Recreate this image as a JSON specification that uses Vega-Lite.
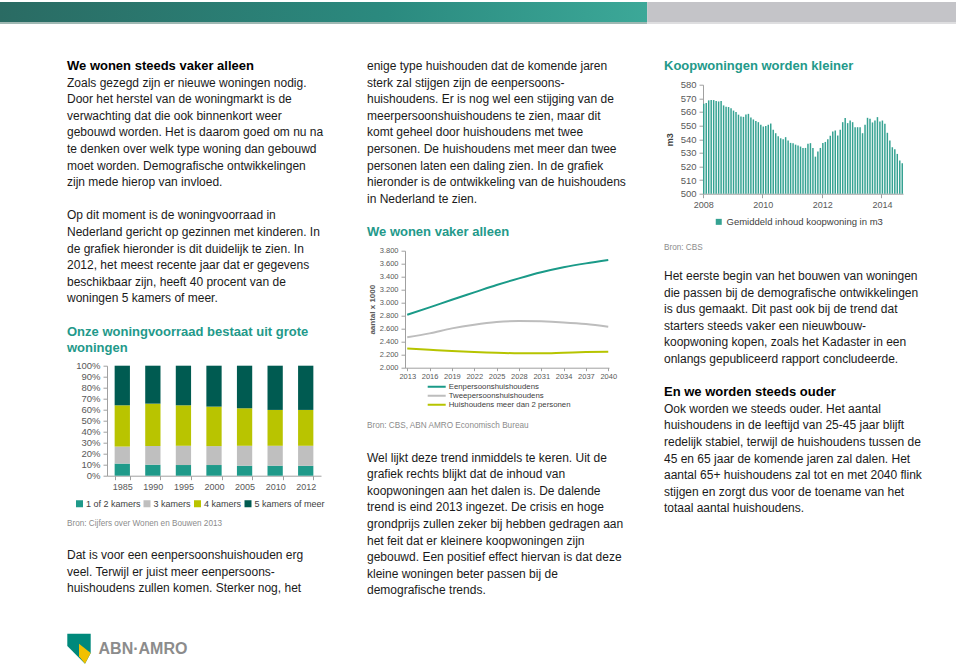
{
  "$schema": "https://vega.github.io/schema/vega-lite/v6.json",
  "padding": {"top": 2, "left": 0, "right": 0, "bottom": 0},
  "background": "white",
  "config": {
    "font": "Liberation Sans",
    "view": {"stroke": null},
    "axis": {"grid": false, "domainColor": "#a0a0a0", "tickColor": "#a0a0a0", "labelColor": "#595959", "titleColor": "#595959", "tickSize": 4, "labelPadding": 2},
    "legend": {"padding": 0, "labelColor": "#404040"}
  },
  "resolve": {"scale": {"color": "independent"}, "legend": {"color": "independent"}},
  "spacing": 33.7,
  "vconcat": [
    {
      "width": 956, "height": 22,
      "data": {"values": [{}]},
      "encoding": {
        "y": {"datum": 0, "type": "quantitative", "scale": {"domain": [0, 1], "reverse": true, "nice": false, "zero": false}, "axis": null}
      },
      "layer": [
        {"mark": {"type": "rect", "color": {"gradient": "linear", "x1": 0, "y1": 0, "x2": 1, "y2": 0, "stops": [{"offset": 0, "color": "#2a6b63"}, {"offset": 0.6, "color": "#2b8a7f"}, {"offset": 1, "color": "#3ca898"}]}},
         "encoding": {"x": {"datum": 0, "type": "quantitative", "scale": {"domain": [0, 1], "nice": false, "zero": false}, "axis": null}, "x2": {"datum": 0.677}, "y2": {"datum": 0.91}}},
        {"mark": {"type": "rect", "color": "#c4c4c8"},
         "encoding": {"x": {"datum": 0.677, "type": "quantitative", "axis": null}, "x2": {"datum": 1}, "y2": {"datum": 0.91}}},
        {"mark": {"type": "rect", "color": "#9fb8b3"},
         "encoding": {"x": {"datum": 0, "type": "quantitative", "axis": null}, "x2": {"datum": 0.677}, "y": {"datum": 0.91, "type": "quantitative"}, "y2": {"datum": 1}}},
        {"mark": {"type": "rect", "color": "#dedee0"},
         "encoding": {"x": {"datum": 0.677, "type": "quantitative", "axis": null}, "x2": {"datum": 1}, "y": {"datum": 0.91, "type": "quantitative"}, "y2": {"datum": 1}}}
      ]
    },
    {
      "spacing": 20,
      "resolve": {"scale": {"color": "independent"}, "legend": {"color": "independent"}},
      "hconcat": [
        {"width": 47, "height": 20, "data": {"values": [{}]}, "mark": {"type": "text", "text": "", "fontSize": 1}},
        {
          "spacing": 0,
          "resolve": {"scale": {"color": "independent"}, "legend": {"color": "independent"}},
          "vconcat": [
            {
              "width": 280, "height": 302.25,
              "data": {"values": [
                {"line": 0, "kind": "heading", "text": "We wonen steeds vaker alleen"},
                {"line": 1, "kind": "body", "text": "Zoals gezegd zijn er nieuwe woningen nodig."},
                {"line": 2, "kind": "body", "text": "Door het herstel van de woningmarkt is de"},
                {"line": 3, "kind": "body", "text": "verwachting dat die ook binnenkort weer"},
                {"line": 4, "kind": "body", "text": "gebouwd worden. Het is daarom goed om nu na"},
                {"line": 5, "kind": "body", "text": "te denken over welk type woning dan gebouwd"},
                {"line": 6, "kind": "body", "text": "moet worden. Demografische ontwikkelingen"},
                {"line": 7, "kind": "body", "text": "zijn mede hierop van invloed."},
                {"line": 9, "kind": "body", "text": "Op dit moment is de woningvoorraad in"},
                {"line": 10, "kind": "body", "text": "Nederland gericht op gezinnen met kinderen. In"},
                {"line": 11, "kind": "body", "text": "de grafiek hieronder is dit duidelijk te zien. In"},
                {"line": 12, "kind": "body", "text": "2012, het meest recente jaar dat er gegevens"},
                {"line": 13, "kind": "body", "text": "beschikbaar zijn, heeft 40 procent van de"},
                {"line": 14, "kind": "body", "text": "woningen 5 kamers of meer."},
                {"line": 16, "kind": "title", "text": "Onze woningvoorraad bestaat uit grote"},
                {"line": 17, "kind": "title", "text": "woningen"}
              ]},
              "encoding": {
                "x": {"value": 0},
                "y": {"field": "line", "type": "quantitative", "scale": {"domain": [-0.5, 17.708], "reverse": true, "nice": false, "zero": false}, "axis": null},
                "text": {"field": "text"}
              },
              "layer": [
                {"transform": [{"filter": "datum.kind === 'heading'"}], "mark": {"type": "text", "align": "left", "baseline": "middle", "fontSize": 13, "fontWeight": "bold", "color": "#000000"}},
                {"transform": [{"filter": "datum.kind === 'body'"}], "mark": {"type": "text", "align": "left", "baseline": "middle", "fontSize": 12, "color": "#1a1a1a"}},
                {"transform": [{"filter": "datum.kind === 'title'"}], "mark": {"type": "text", "align": "left", "baseline": "middle", "fontSize": 13, "fontWeight": "bold", "color": "#23998a"}}
              ]
            },
            {
              "spacing": 0,
              "hconcat": [
                {"width": 1, "height": 10, "data": {"values": [{}]}, "mark": {"type": "text", "text": "", "fontSize": 1}},
                {
                  "width": 214, "height": 110,
                  "data": {"values": [
                    {"year": "1985", "rooms": "1 of 2 kamers", "rank": 1, "share": 11},
                    {"year": "1985", "rooms": "3 kamers", "rank": 2, "share": 15.5},
                    {"year": "1985", "rooms": "4 kamers", "rank": 3, "share": 37.5},
                    {"year": "1985", "rooms": "5 kamers of meer", "rank": 4, "share": 36},
                    {"year": "1990", "rooms": "1 of 2 kamers", "rank": 1, "share": 10},
                    {"year": "1990", "rooms": "3 kamers", "rank": 2, "share": 17},
                    {"year": "1990", "rooms": "4 kamers", "rank": 3, "share": 38.5},
                    {"year": "1990", "rooms": "5 kamers of meer", "rank": 4, "share": 34.5},
                    {"year": "1995", "rooms": "1 of 2 kamers", "rank": 1, "share": 9.7},
                    {"year": "1995", "rooms": "3 kamers", "rank": 2, "share": 17.5},
                    {"year": "1995", "rooms": "4 kamers", "rank": 3, "share": 36.8},
                    {"year": "1995", "rooms": "5 kamers of meer", "rank": 4, "share": 36},
                    {"year": "2000", "rooms": "1 of 2 kamers", "rank": 1, "share": 9.7},
                    {"year": "2000", "rooms": "3 kamers", "rank": 2, "share": 17.2},
                    {"year": "2000", "rooms": "4 kamers", "rank": 3, "share": 35.9},
                    {"year": "2000", "rooms": "5 kamers of meer", "rank": 4, "share": 37.2},
                    {"year": "2005", "rooms": "1 of 2 kamers", "rank": 1, "share": 9.1},
                    {"year": "2005", "rooms": "3 kamers", "rank": 2, "share": 18.1},
                    {"year": "2005", "rooms": "4 kamers", "rank": 3, "share": 34.1},
                    {"year": "2005", "rooms": "5 kamers of meer", "rank": 4, "share": 38.7},
                    {"year": "2010", "rooms": "1 of 2 kamers", "rank": 1, "share": 9.1},
                    {"year": "2010", "rooms": "3 kamers", "rank": 2, "share": 18.1},
                    {"year": "2010", "rooms": "4 kamers", "rank": 3, "share": 32.6},
                    {"year": "2010", "rooms": "5 kamers of meer", "rank": 4, "share": 40.2},
                    {"year": "2012", "rooms": "1 of 2 kamers", "rank": 1, "share": 9.0},
                    {"year": "2012", "rooms": "3 kamers", "rank": 2, "share": 18.2},
                    {"year": "2012", "rooms": "4 kamers", "rank": 3, "share": 32.6},
                    {"year": "2012", "rooms": "5 kamers of meer", "rank": 4, "share": 40.2}
                  ]},
                  "mark": {"type": "bar"},
                  "encoding": {
                    "x": {"field": "year", "type": "ordinal", "scale": {"paddingInner": 0.5, "paddingOuter": 0.25}, "axis": {"title": null, "labelAngle": 0, "tickBand": "extent", "labelFontSize": 9, "labelPadding": 3}},
                    "y": {"field": "share", "type": "quantitative", "stack": "normalize", "scale": {"domain": [0, 1], "nice": false}, "axis": {"title": null, "values": [0, 0.1, 0.2, 0.3, 0.4, 0.5, 0.6, 0.7, 0.8, 0.9, 1], "format": ".0%", "labelFontSize": 9.5, "labelPadding": 3, "minExtent": 38.5}},
                    "color": {"field": "rooms", "type": "nominal", "scale": {"domain": ["1 of 2 kamers", "3 kamers", "4 kamers", "5 kamers of meer"], "range": ["#1f9a8a", "#bfbfbf", "#b9c400", "#005b51"]},
                      "legend": {"title": null, "orient": "none", "direction": "horizontal", "legendX": 8, "legendY": 133.3, "symbolType": "square", "symbolSize": 49, "symbolStrokeWidth": 0, "labelFontSize": 9, "columnPadding": 1.5, "labelOffset": 2}},
                    "order": {"field": "rank", "type": "quantitative"}
                  }
                }
              ]
            },
            {"width": 280, "height": 28.5, "data": {"values": [{"text": "Bron: Cijfers over Wonen en Bouwen 2013"}]}, "mark": {"type": "text", "align": "left", "baseline": "middle", "fontSize": 8.2, "color": "#8c8c8c"}, "encoding": {"x": {"value": 0}, "text": {"field": "text"}}},
            {
              "width": 280, "height": 94.95,
              "data": {"values": [
                {"line": 0, "text": "Dat is voor een eenpersoonshuishouden erg"},
                {"line": 1, "text": "veel. Terwijl er juist meer eenpersoons-"},
                {"line": 2, "text": "huishoudens zullen komen. Sterker nog, het"}
              ]},
              "mark": {"type": "text", "align": "left", "baseline": "middle", "fontSize": 12, "color": "#1a1a1a"},
              "encoding": {
                "x": {"value": 0},
                "y": {"field": "line", "type": "quantitative", "scale": {"domain": [-0.979, 4.741], "reverse": true, "nice": false, "zero": false}, "axis": null},
                "text": {"field": "text"}
              }
            },
            {
              "spacing": 5,
              "hconcat": [
                {
                  "width": 24, "height": 30,
                  "data": {"values": [{}]},
                  "layer": [
                    {"mark": {"type": "point", "filled": true, "opacity": 1, "strokeWidth": 0, "size": 900, "color": "#00897b", "shape": "M -0.78 -1 L 0.78 -1 L 0.78 0.29 L 0.4 1 L -0.78 -0.18 Z"}},
                    {"mark": {"type": "point", "filled": true, "opacity": 1, "strokeWidth": 0, "size": 900, "color": "#f1c000", "shape": "M 0 -0.33 L 0.78 0.29 L 0.4 1 L 0 0.5 Z"}}
                  ]
                },
                {"width": 94, "height": 30, "data": {"values": [{"t": "ABN·AMRO"}]}, "mark": {"type": "text", "align": "center", "baseline": "middle", "fontSize": 16, "fontWeight": "bold", "color": "#8c8c8c"}, "encoding": {"text": {"field": "t"}}}
              ]
            }
          ]
        },
        {
          "spacing": 0,
          "resolve": {"scale": {"color": "independent"}, "legend": {"color": "independent"}},
          "vconcat": [
            {
              "width": 277, "height": 188.24,
              "data": {"values": [
                {"line": 0, "kind": "body", "text": "enige type huishouden dat de komende jaren"},
                {"line": 1, "kind": "body", "text": "sterk zal stijgen zijn de eenpersoons-"},
                {"line": 2, "kind": "body", "text": "huishoudens. Er is nog wel een stijging van de"},
                {"line": 3, "kind": "body", "text": "meerpersoonshuishoudens te zien, maar dit"},
                {"line": 4, "kind": "body", "text": "komt geheel door huishoudens met twee"},
                {"line": 5, "kind": "body", "text": "personen. De huishoudens met meer dan twee"},
                {"line": 6, "kind": "body", "text": "personen laten een daling zien. In de grafiek"},
                {"line": 7, "kind": "body", "text": "hieronder is de ontwikkeling van de huishoudens"},
                {"line": 8, "kind": "body", "text": "in Nederland te zien."},
                {"line": 10, "kind": "title", "text": "We wonen vaker alleen"}
              ]},
              "encoding": {
                "x": {"value": 0},
                "y": {"field": "line", "type": "quantitative", "scale": {"domain": [-0.5, 10.84], "reverse": true, "nice": false, "zero": false}, "axis": null},
                "text": {"field": "text"}
              },
              "layer": [
                {"transform": [{"filter": "datum.kind === 'body'"}], "mark": {"type": "text", "align": "left", "baseline": "middle", "fontSize": 12, "color": "#1a1a1a"}},
                {"transform": [{"filter": "datum.kind === 'title'"}], "mark": {"type": "text", "align": "left", "baseline": "middle", "fontSize": 13, "fontWeight": "bold", "color": "#23998a"}}
              ]
            },
            {
              "spacing": 0,
              "hconcat": [
                {"width": 1, "height": 10, "data": {"values": [{}]}, "mark": {"type": "text", "text": "", "fontSize": 1}},
                {
                  "width": 204, "height": 117,
                  "data": {"values": [
                    {"year": 2013, "series": "Eenpersoonshuishoudens", "value": 2815},
                    {"year": 2016, "series": "Eenpersoonshuishoudens", "value": 2928},
                    {"year": 2019, "series": "Eenpersoonshuishoudens", "value": 3046},
                    {"year": 2022, "series": "Eenpersoonshuishoudens", "value": 3159},
                    {"year": 2025, "series": "Eenpersoonshuishoudens", "value": 3272},
                    {"year": 2028, "series": "Eenpersoonshuishoudens", "value": 3374},
                    {"year": 2031, "series": "Eenpersoonshuishoudens", "value": 3467},
                    {"year": 2034, "series": "Eenpersoonshuishoudens", "value": 3544},
                    {"year": 2037, "series": "Eenpersoonshuishoudens", "value": 3605},
                    {"year": 2040, "series": "Eenpersoonshuishoudens", "value": 3656},
                    {"year": 2013, "series": "Tweepersoonshuishoudens", "value": 2467},
                    {"year": 2016, "series": "Tweepersoonshuishoudens", "value": 2528},
                    {"year": 2019, "series": "Tweepersoonshuishoudens", "value": 2605},
                    {"year": 2022, "series": "Tweepersoonshuishoudens", "value": 2662},
                    {"year": 2025, "series": "Tweepersoonshuishoudens", "value": 2703},
                    {"year": 2028, "series": "Tweepersoonshuishoudens", "value": 2718},
                    {"year": 2031, "series": "Tweepersoonshuishoudens", "value": 2713},
                    {"year": 2034, "series": "Tweepersoonshuishoudens", "value": 2697},
                    {"year": 2037, "series": "Tweepersoonshuishoudens", "value": 2672},
                    {"year": 2040, "series": "Tweepersoonshuishoudens", "value": 2631},
                    {"year": 2013, "series": "Huishoudens meer dan 2 personen", "value": 2297},
                    {"year": 2016, "series": "Huishoudens meer dan 2 personen", "value": 2277},
                    {"year": 2019, "series": "Huishoudens meer dan 2 personen", "value": 2256},
                    {"year": 2022, "series": "Huishoudens meer dan 2 personen", "value": 2241},
                    {"year": 2025, "series": "Huishoudens meer dan 2 personen", "value": 2231},
                    {"year": 2028, "series": "Huishoudens meer dan 2 personen", "value": 2221},
                    {"year": 2031, "series": "Huishoudens meer dan 2 personen", "value": 2221},
                    {"year": 2034, "series": "Huishoudens meer dan 2 personen", "value": 2231},
                    {"year": 2037, "series": "Huishoudens meer dan 2 personen", "value": 2241},
                    {"year": 2040, "series": "Huishoudens meer dan 2 personen", "value": 2246}
                  ]},
                  "mark": {"type": "line", "interpolate": "monotone", "strokeWidth": 2},
                  "encoding": {
                    "x": {"field": "year", "type": "quantitative", "scale": {"domain": [2012.7, 2040.1], "nice": false, "zero": false}, "axis": {"title": null, "values": [2013, 2016, 2019, 2022, 2025, 2028, 2031, 2034, 2037, 2040], "format": "d", "labelFontSize": 7.5, "labelOverlap": false, "labelFlush": false, "tickSize": 3, "labelPadding": 2}},
                    "y": {"field": "value", "type": "quantitative", "scale": {"domain": [2000, 3800], "nice": false, "zero": false}, "axis": {"title": "aantal x 1000", "titleFontSize": 8, "titleFontWeight": "bold", "titlePadding": 3, "values": [2000, 2200, 2400, 2600, 2800, 3000, 3200, 3400, 3600, 3800], "labelExpr": "replace(format(datum.value, ','), ',', '.')", "labelFontSize": 7.5, "labelOverlap": false, "labelPadding": 3}},
                    "color": {"field": "series", "type": "nominal", "scale": {"domain": ["Eenpersoonshuishoudens", "Tweepersoonshuishoudens", "Huishoudens meer dan 2 personen"], "range": ["#1a9a88", "#bdbdbd", "#b6c400"]},
                      "legend": {"title": null, "orient": "none", "direction": "vertical", "legendX": 59.7, "legendY": 132.65, "symbolType": "stroke", "symbolSize": 324, "symbolStrokeWidth": 2, "clipHeight": 7, "rowPadding": 0, "labelFontSize": 7.8, "labelOffset": 2}}
                  }
                }
              ]
            },
            {"width": 277, "height": 33.5, "data": {"values": [{"text": "Bron: CBS, ABN AMRO Economisch Bureau"}]}, "mark": {"type": "text", "align": "left", "baseline": "middle", "fontSize": 8.2, "color": "#8c8c8c"}, "encoding": {"x": {"value": 0}, "text": {"field": "text"}}},
            {
              "width": 277, "height": 159.9,
              "data": {"values": [
                {"line": 0, "text": "Wel lijkt deze trend inmiddels te keren. Uit de"},
                {"line": 1, "text": "grafiek rechts blijkt dat de inhoud van"},
                {"line": 2, "text": "koopwoningen aan het dalen is. De dalende"},
                {"line": 3, "text": "trend is eind 2013 ingezet. De crisis en hoge"},
                {"line": 4, "text": "grondprijs zullen zeker bij hebben gedragen aan"},
                {"line": 5, "text": "het feit dat er kleinere koopwoningen zijn"},
                {"line": 6, "text": "gebouwd. Een positief effect hiervan is dat deze"},
                {"line": 7, "text": "kleine woningen beter passen bij de"},
                {"line": 8, "text": "demografische trends."}
              ]},
              "mark": {"type": "text", "align": "left", "baseline": "middle", "fontSize": 12, "color": "#1a1a1a"},
              "encoding": {
                "x": {"value": 0},
                "y": {"field": "line", "type": "quantitative", "scale": {"domain": [-0.835, 8.8], "reverse": true, "nice": false, "zero": false}, "axis": null},
                "text": {"field": "text"}
              }
            }
          ]
        },
        {
          "spacing": 0,
          "resolve": {"scale": {"color": "independent"}, "legend": {"color": "independent"}},
          "vconcat": [
            {
              "width": 280, "height": 21.55,
              "data": {"values": [{"line": 0, "text": "Koopwoningen worden kleiner"}]},
              "mark": {"type": "text", "align": "left", "baseline": "middle", "fontSize": 13, "fontWeight": "bold", "color": "#23998a"},
              "encoding": {
                "x": {"value": 0},
                "y": {"field": "line", "type": "quantitative", "scale": {"domain": [-0.5, 0.798], "reverse": true, "nice": false, "zero": false}, "axis": null},
                "text": {"field": "text"}
              }
            },
            {
              "spacing": 0,
              "hconcat": [
                {"width": 1, "height": 10, "data": {"values": [{}]}, "mark": {"type": "text", "text": "", "fontSize": 1}},
                {
                  "width": 200, "height": 109,
                  "data": {"values": [
                    {"m": "2008-01", "v": 566}, {"m": "2008-02", "v": 566.5}, {"m": "2008-03", "v": 568.5}, {"m": "2008-04", "v": 568.7},
                    {"m": "2008-05", "v": 568.7}, {"m": "2008-06", "v": 568}, {"m": "2008-07", "v": 567.7}, {"m": "2008-08", "v": 568},
                    {"m": "2008-09", "v": 564.8}, {"m": "2008-10", "v": 563.8}, {"m": "2008-11", "v": 563.6}, {"m": "2008-12", "v": 562.8},
                    {"m": "2009-01", "v": 561}, {"m": "2009-02", "v": 560}, {"m": "2009-03", "v": 558}, {"m": "2009-04", "v": 556.7},
                    {"m": "2009-05", "v": 556.4}, {"m": "2009-06", "v": 558.2}, {"m": "2009-07", "v": 558.6}, {"m": "2009-08", "v": 556},
                    {"m": "2009-09", "v": 554.5}, {"m": "2009-10", "v": 553.3}, {"m": "2009-11", "v": 552.5}, {"m": "2009-12", "v": 550.6},
                    {"m": "2010-01", "v": 549.3}, {"m": "2010-02", "v": 549.6}, {"m": "2010-03", "v": 550.6}, {"m": "2010-04", "v": 551.5},
                    {"m": "2010-05", "v": 546.9}, {"m": "2010-06", "v": 544.4}, {"m": "2010-07", "v": 542.2}, {"m": "2010-08", "v": 540.7},
                    {"m": "2010-09", "v": 540}, {"m": "2010-10", "v": 541.5}, {"m": "2010-11", "v": 539}, {"m": "2010-12", "v": 537.3},
                    {"m": "2011-01", "v": 537}, {"m": "2011-02", "v": 536}, {"m": "2011-03", "v": 535.3}, {"m": "2011-04", "v": 534.6},
                    {"m": "2011-05", "v": 533.6}, {"m": "2011-06", "v": 533.6}, {"m": "2011-07", "v": 536.6}, {"m": "2011-08", "v": 537.1},
                    {"m": "2011-09", "v": 533.6}, {"m": "2011-10", "v": 527.2}, {"m": "2011-11", "v": 530.9}, {"m": "2011-12", "v": 533.6},
                    {"m": "2012-01", "v": 537.3}, {"m": "2012-02", "v": 538}, {"m": "2012-03", "v": 540}, {"m": "2012-04", "v": 542.5},
                    {"m": "2012-05", "v": 545.6}, {"m": "2012-06", "v": 546.4}, {"m": "2012-07", "v": 542.7}, {"m": "2012-08", "v": 546.9},
                    {"m": "2012-09", "v": 552.5}, {"m": "2012-10", "v": 555.5}, {"m": "2012-11", "v": 551.8}, {"m": "2012-12", "v": 553.7},
                    {"m": "2013-01", "v": 552.5}, {"m": "2013-02", "v": 548.8}, {"m": "2013-03", "v": 548.8}, {"m": "2013-04", "v": 548.8},
                    {"m": "2013-05", "v": 544.4}, {"m": "2013-06", "v": 550.6}, {"m": "2013-07", "v": 555.7}, {"m": "2013-08", "v": 555},
                    {"m": "2013-09", "v": 552.3}, {"m": "2013-10", "v": 553.7}, {"m": "2013-11", "v": 556.2}, {"m": "2013-12", "v": 553},
                    {"m": "2014-01", "v": 553.7}, {"m": "2014-02", "v": 551.3}, {"m": "2014-03", "v": 544.7}, {"m": "2014-04", "v": 539},
                    {"m": "2014-05", "v": 534.1}, {"m": "2014-06", "v": 532.6}, {"m": "2014-07", "v": 529.2}, {"m": "2014-08", "v": 524.3},
                    {"m": "2014-09", "v": 522.3}
                  ]},
                  "mark": {"type": "bar"},
                  "encoding": {
                    "x": {"field": "m", "type": "ordinal", "scale": {"paddingInner": 0.4, "paddingOuter": 0}, "axis": {"title": null, "values": ["2008-01", "2010-01", "2012-01", "2014-01"], "labelExpr": "slice(datum.value, 0, 4)", "bandPosition": 0, "labelAngle": 0, "labelFontSize": 9, "labelPadding": 3}},
                    "y": {"field": "v", "type": "quantitative", "stack": null, "scale": {"domain": [500, 580], "nice": false, "zero": false}, "axis": {"title": "m3", "titleFontSize": 9, "titleFontWeight": "bold", "titleColor": "#404040", "titlePadding": 5.5, "values": [500, 510, 520, 530, 540, 550, 560, 570, 580], "labelFontSize": 9.5, "labelPadding": 3}},
                    "y2": {"datum": 500},
                    "color": {"datum": "Gemiddeld inhoud koopwoning in m3", "type": "nominal", "scale": {"range": ["#35a292"]},
                      "legend": {"title": null, "orient": "none", "legendX": 50, "legendY": 132.4, "symbolType": "square", "symbolSize": 36, "symbolStrokeWidth": 0, "labelFontSize": 9.5, "labelOffset": 3}}
                  }
                }
              ]
            },
            {"width": 280, "height": 41.1, "data": {"values": [{"text": "Bron: CBS"}]}, "mark": {"type": "text", "align": "left", "baseline": "middle", "fontSize": 8.2, "color": "#8c8c8c"}, "encoding": {"x": {"value": 0}, "text": {"field": "text"}}},
            {
              "width": 280, "height": 248.6,
              "data": {"values": [
                {"line": 0, "kind": "body", "text": "Het eerste begin van het bouwen van woningen"},
                {"line": 1, "kind": "body", "text": "die passen bij de demografische ontwikkelingen"},
                {"line": 2, "kind": "body", "text": "is dus gemaakt. Dit past ook bij de trend dat"},
                {"line": 3, "kind": "body", "text": "starters steeds vaker een nieuwbouw-"},
                {"line": 4, "kind": "body", "text": "koopwoning kopen, zoals het Kadaster in een"},
                {"line": 5, "kind": "body", "text": "onlangs gepubliceerd rapport concludeerde."},
                {"line": 7, "kind": "heading", "text": "En we worden steeds ouder"},
                {"line": 8, "kind": "body", "text": "Ook worden we steeds ouder. Het aantal"},
                {"line": 9, "kind": "body", "text": "huishoudens in de leeftijd van 25-45 jaar blijft"},
                {"line": 10, "kind": "body", "text": "redelijk stabiel, terwijl de huishoudens tussen de"},
                {"line": 11, "kind": "body", "text": "45 en 65 jaar de komende jaren zal dalen. Het"},
                {"line": 12, "kind": "body", "text": "aantal 65+ huishoudens zal tot en met 2040 flink"},
                {"line": 13, "kind": "body", "text": "stijgen en zorgt dus voor de toename van het"},
                {"line": 14, "kind": "body", "text": "totaal aantal huishoudens."}
              ]},
              "encoding": {
                "x": {"value": 0},
                "y": {"field": "line", "type": "quantitative", "scale": {"domain": [-0.377, 14.6], "reverse": true, "nice": false, "zero": false}, "axis": null},
                "text": {"field": "text"}
              },
              "layer": [
                {"transform": [{"filter": "datum.kind === 'heading'"}], "mark": {"type": "text", "align": "left", "baseline": "middle", "fontSize": 13, "fontWeight": "bold", "color": "#000000"}},
                {"transform": [{"filter": "datum.kind === 'body'"}], "mark": {"type": "text", "align": "left", "baseline": "middle", "fontSize": 12, "color": "#1a1a1a"}}
              ]
            }
          ]
        }
      ]
    }
  ]
}
